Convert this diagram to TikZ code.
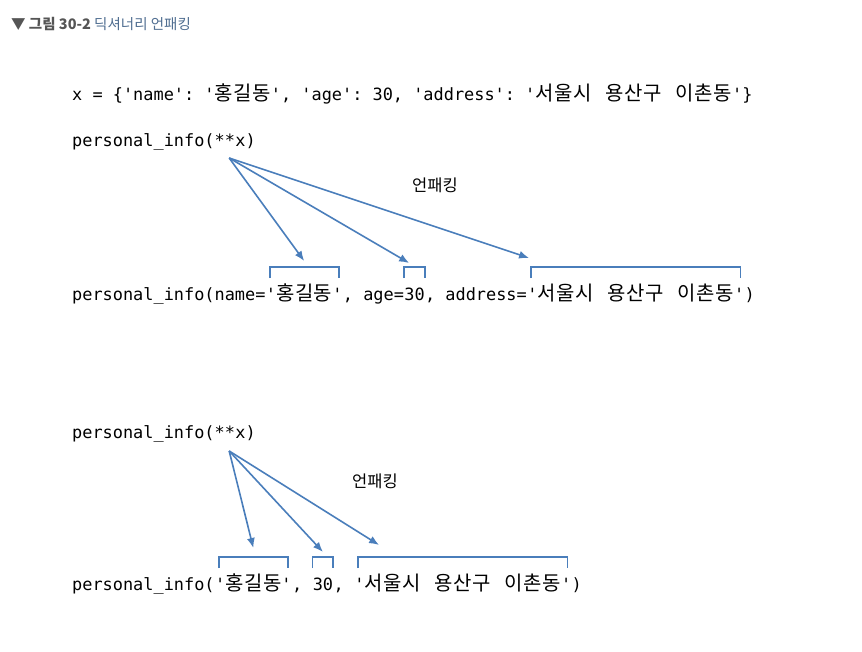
\documentclass[tikz,border=0pt]{standalone}
\usepackage{fontspec}
\setmainfont{Noto Sans CJK KR}
\setmonofont{DejaVu Sans Mono}
\newfontfamily\krcode{Noto Sans CJK KR}[Scale=1.18,LetterSpace=3]
\usetikzlibrary{arrows.meta}
\definecolor{arrowblue}{RGB}{74,126,187}
\definecolor{headgray}{RGB}{85,85,85}
\definecolor{headblue}{RGB}{80,110,145}
\newcommand\addr{{\krcode 서울시\hspace{14pt}용산구\hspace{14pt}이촌동}}

\begin{document}
\begin{tikzpicture}[x=1pt, y=-1pt,
    code/.style={inner sep=0pt, anchor=base west, font=\ttfamily\fontsize{16.9}{20}\selectfont},
    unpack/.style={font=\fontsize{16.5}{20}\selectfont},
    arr/.style={draw=arrowblue, line width=1.6pt, -{Latex[length=10pt,width=8pt]}},
    brk/.style={draw=arrowblue, line width=1.8pt}]
        \fill[white] (0,0) rectangle (862,651);
        \useasboundingbox (0,0) rectangle (862,651);

        % Title
        \node[inner sep=0pt, anchor=base west, font=\fontsize{14.5}{17}\selectfont] (title) at (11,29)
            {\textcolor{headgray}{▼ \textbf{그림 30-2}} \textcolor{headblue}{딕셔너리 언패킹}};

        % Dictionary
        \node[code] (dict) at (72,100)
            {x = \{'name': '{\krcode 홍길동}', 'age': 30, 'address': '\addr'\}};

        % First call with keywords
        \node[code] (c1a) at (72,146) {personal\_info(**};
        \node[code] (c1b) at (c1a.base east) {x)};
        \coordinate (s1) at ([xshift=-6pt,yshift=-12pt]c1a.base east);

        \node[code] (k1) at (72,300) {personal\_info(name=};
        \node[code] (q1) at (k1.base east) {'{\krcode 홍길동}'};
        \node[code] (k2) at (q1.base east) {,\ age=};
        \node[code] (n1) at (k2.base east) {30};
        \node[code] (k3) at (n1.base east) {,\ address=};
        \node[code] (a1) at (k3.base east) {'\addr'};
        \node[code] (k4) at (a1.base east) {)};

        \node[unpack] (u1) at (435,185) {언패킹};

        \draw[arr] (s1) -- ([yshift=39pt]q1.base);
        \draw[arr] (s1) -- ([xshift=5pt,yshift=37pt]n1.base west);
        \draw[arr] (s1) -- ([xshift=2pt,yshift=42pt]a1.base west);

        % Second call, positional
        \node[code] (c2a) at (72,438) {personal\_info(**};
        \node[code] (c2b) at (c2a.base east) {x)};
        \coordinate (s2) at ([xshift=-6pt,yshift=-13pt]c2a.base east);

        \node[code] (p1) at (72,590) {personal\_info(};
        \node[code] (q2) at (p1.base east) {'{\krcode 홍길동}'};
        \node[code] (p2) at (q2.base east) {,\ \null};
        \node[code] (n2) at (p2.base east) {30};
        \node[code] (p3) at (n2.base east) {,\ \null};
        \node[code] (a2) at (p3.base east) {'\addr'};
        \node[code] (p4) at (a2.base east) {)};

        \node[unpack] (u2) at (375,481) {언패킹};

        \draw[arr] (s2) -- ([yshift=42pt]q2.base);
        \draw[arr] (s2) -- ([yshift=38pt]n2.base);
        \draw[arr] (s2) -- ([xshift=25pt,yshift=45pt]a2.base west);

        % Brackets
        \foreach \b/\i in {q1/4,n1/0,a1/4,q2/4,n2/0,a2/4}
            \draw[brk] ([xshift=\i pt,yshift=22pt]\b.base west) -- ([xshift=\i pt,yshift=33pt]\b.base west)
                -- ([xshift=-\i pt,yshift=33pt]\b.base east) -- ([xshift=-\i pt,yshift=22pt]\b.base east);
\end{tikzpicture}
\end{document}
